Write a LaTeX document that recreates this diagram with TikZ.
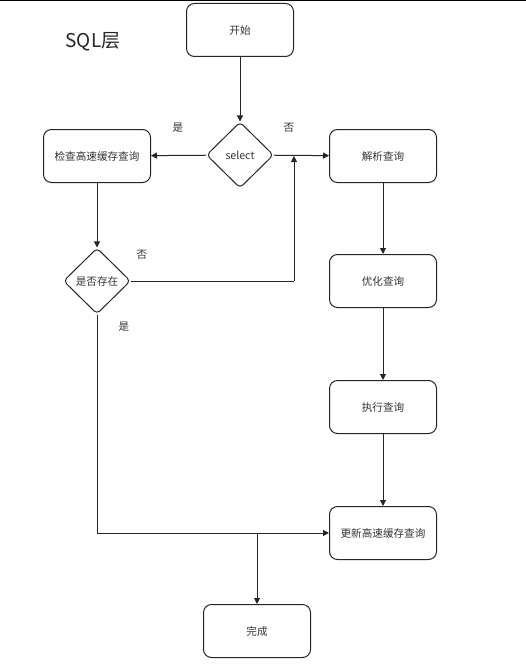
\documentclass[tikz,border=0pt]{standalone}
\usepackage{fontspec}
\setmainfont{Noto Sans CJK SC}
\usetikzlibrary{shapes.geometric,arrows.meta}
\begin{document}
\begin{tikzpicture}[x=1pt,y=-1pt,
  box/.style={draw=black!85,line width=1pt,rounded corners=8pt,minimum width=107pt,minimum height=53pt,inner sep=0pt,font=\fontsize{10.6}{12}\selectfont,text=black!80},
  dec/.style={draw=black!85,line width=1pt,diamond,rounded corners=4pt,minimum width=67pt,minimum height=66pt,inner sep=0pt,font=\fontsize{10.6}{12}\selectfont,text=black!80},
  arr/.style={draw=black!85,line width=1pt,-{Triangle[length=6pt,width=6pt]}},
  ln/.style={draw=black!85,line width=1pt},
  lab/.style={font=\fontsize{10.6}{12}\selectfont,text=black!80}]
\useasboundingbox (0,0) rectangle (526,669);
\fill[white] (0,0) rectangle (526,669);
\draw[line width=2pt] (0,0.5) -- (526,0.5);
\node[font=\fontsize{19}{22}\selectfont,text=black!85] (title) at (93,42) {SQL层};
\node[box] (start) at (240,30) {开始};
\node[dec] (sel) at (240,155) {select};
\node[box] (check) at (97,156) {检查高速缓存查询};
\node[box] (parse) at (383,156) {解析查询};
\node[dec] (exist) at (97,281) {是否存在};
\node[box] (opt) at (383,281) {优化查询};
\node[box] (exec) at (383,407) {执行查询};
\node[box] (upd) at (383,533) {更新高速缓存查询};
\node[box] (done) at (257,631) {完成};
\coordinate (j1) at (294,156);
\coordinate (j2) at (294,281);
\coordinate (c1) at (97,533);
\coordinate (c2) at (257,533);
\draw[arr] (start) -- (sel);
\draw[arr] (sel) -- (check);
\draw[arr] (sel) -- (parse);
\draw[arr] (check) -- (exist);
\draw[ln] (exist.east) -- (j2);
\draw[arr] (j2) -- (j1);
\draw[ln] (exist.south) -- (c1);
\draw[arr] (c1) -- (upd.west);
\draw[arr] (c2) -- (done);
\draw[arr] (parse) -- (opt);
\draw[arr] (opt) -- (exec);
\draw[arr] (exec) -- (upd);
\node[lab] (l1) at (178,128) {是};
\node[lab] (l2) at (289,128) {否};
\node[lab] (l3) at (142,255) {否};
\node[lab] (l4) at (124,327) {是};
\end{tikzpicture}
\end{document}
